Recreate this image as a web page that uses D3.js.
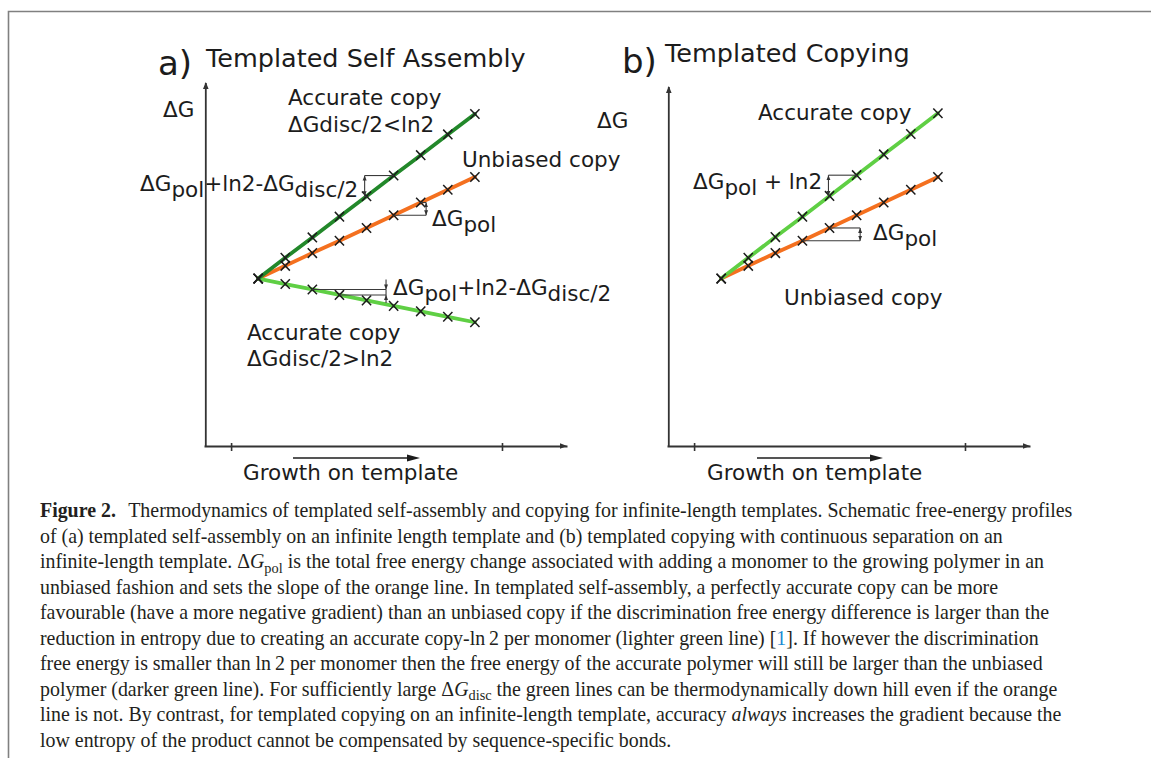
<!DOCTYPE html>
<html>
<head>
<meta charset="utf-8">
<script src="https://cdn.jsdelivr.net/npm/d3@7"></script>
<style>
  html, body { margin: 0; padding: 0; background: #fff; }
  svg { display: block; }
</style>
</head>
<body>
<svg id="fig" width="1151" height="758"></svg>
<script>
// Number of monomers added along the template
const steps = [0, 1, 2, 3, 4, 5, 6, 7, 8];
// Unlabelled ticks on the growth axis
const xTicks = [-1, 9];

// (a) Templated self assembly: free energy after each added monomer
const assemblyUnbiased       = [4.60, 4.95, 5.30, 5.64, 5.99, 6.34, 6.69, 7.04, 7.39];
const assemblyAccurateWeak   = [4.60, 5.17, 5.73, 6.30, 6.86, 7.43, 7.99, 8.56, 9.12];
const assemblyAccurateStrong = [4.60, 4.45, 4.30, 4.15, 4.00, 3.85, 3.70, 3.55, 3.40];

// (b) Templated copying
const copyingUnbiased = [4.60, 4.95, 5.30, 5.64, 5.99, 6.34, 6.69, 7.04, 7.39];
const copyingAccurate = [4.60, 5.17, 5.74, 6.30, 6.87, 7.44, 8.01, 8.57, 9.14];

const colors = { orange: "#f4701f", darkGreen: "#22882a", lightGreen: "#5fcf44" };
const ink = "#1c1c1c";
const diagramFont = "'DejaVu Sans', Verdana, sans-serif";

const svg = d3.select("#fig");

// Figure frame
svg.append("path")
  .attr("d", "M8.5,758 V11.5 H1151")
  .attr("fill", "none").attr("stroke", "#808080").attr("stroke-width", 1.6);

const defs = svg.append("defs");
defs.append("marker")
  .attr("id", "tip").attr("viewBox", "0 0 6 6").attr("refX", 6).attr("refY", 3)
  .attr("markerWidth", 5).attr("markerHeight", 5).attr("markerUnits", "userSpaceOnUse")
  .attr("orient", "auto-start-reverse")
  .append("path").attr("d", "M0,0.6 L6,3 L0,5.4 Z").attr("fill", "#333");

function addText(g, x, y, parts, size) {
  const t = g.append("text").attr("x", x).attr("y", y)
    .attr("font-family", diagramFont).attr("font-size", size).attr("fill", ink);
  let shifted = 0;
  parts.forEach(([s, sub]) => {
    const want = sub ? 6 : 0;
    t.append("tspan").attr("dy", want - shifted).text(s);
    shifted = want;
  });
  return t;
}

function drawPanel(p) {
  const g = svg.append("g");
  const x = d3.scaleLinear().domain([-2, 11.4]).range(p.xRange);
  const y = d3.scaleLinear().domain([0, 10]).range([446, 82]);

  // growth axis
  const xAxis = g.append("g").attr("transform", `translate(0,${y(0)})`)
    .call(d3.axisBottom(x).tickValues(xTicks).tickFormat("").tickSizeOuter(0));
  xAxis.select(".domain").attr("stroke", "#333").attr("stroke-width", 1.8);
  xAxis.selectAll(".tick line").attr("y1", -3).attr("y2", 5)
    .attr("stroke", "#333").attr("stroke-width", 1.6);
  const xEnd = p.xRange[1];
  g.append("path").attr("d", `M${xEnd},${y(0)} l-7,-2.8 v5.6 Z`).attr("fill", "#333");

  // free energy axis
  const yx = p.xRange[0] + 1.8;
  g.append("line").attr("x1", yx).attr("x2", yx).attr("y1", y(0)).attr("y2", p.yTop)
    .attr("stroke", "#333").attr("stroke-width", 1.8);
  g.append("path").attr("d", `M${yx},${p.yTop - 1} l-2.8,7 h5.6 Z`).attr("fill", "#333");

  // profiles
  const line = d3.line().x((d, i) => x(steps[i])).y(d => y(d));
  p.series.forEach(s => {
    g.append("path").datum(s.values).attr("d", line)
      .attr("fill", "none").attr("stroke", s.color).attr("stroke-width", 3.8)
      .attr("stroke-linecap", "round");
  });
  p.series.forEach(s => {
    g.append("g").selectAll("path").data(s.values).join("path")
      .attr("transform", (d, i) => `translate(${x(steps[i])},${y(d)})`)
      .attr("d", "M-4.6,-4.8 L4.6,4.8 M-4.6,4.8 L4.6,-4.8")
      .attr("stroke", ink).attr("stroke-width", 1.5).attr("fill", "none");
  });

  // per-monomer step annotations
  p.brackets.forEach(b => {
    const vals = p.series.find(s => s.key === b.series).values;
    const xa = x(b.at);
    const y1 = y(vals[b.from]), y2 = y(vals[b.to]);
    const bg = g.append("g").attr("stroke", "#3a3a3a").attr("stroke-width", 1.1).attr("fill", "none");
    bg.append("line").attr("x1", x(steps[b.from])).attr("x2", xa).attr("y1", y1).attr("y2", y1);
    bg.append("line").attr("x1", x(steps[b.to])).attr("x2", xa).attr("y1", y2).attr("y2", y2);
    const top = Math.min(y1, y2), bot = Math.max(y1, y2);
    if (b.inward) {
      bg.append("line").attr("x1", xa).attr("x2", xa).attr("y1", top - 10).attr("y2", top)
        .attr("marker-end", "url(#tip)");
      bg.append("line").attr("x1", xa).attr("x2", xa).attr("y1", bot + 8).attr("y2", bot)
        .attr("marker-end", "url(#tip)");
      bg.append("line").attr("x1", xa).attr("x2", xa).attr("y1", top).attr("y2", bot);
    } else {
      bg.append("line").attr("x1", xa).attr("x2", xa).attr("y1", top).attr("y2", bot)
        .attr("marker-start", "url(#tip)").attr("marker-end", "url(#tip)");
    }
  });

  // titles and labels
  g.append("text").attr("x", p.letter.x).attr("y", p.letter.y)
    .attr("font-family", diagramFont).attr("font-size", 34).attr("fill", ink).text(p.letter.t);
  g.append("text").attr("x", p.title.x).attr("y", p.title.y)
    .attr("font-family", diagramFont).attr("font-size", 25.5).attr("fill", ink).text(p.title.t);
  p.labels.forEach(l => addText(g, l.x, l.y, l.parts, 21.5));

  // growth direction
  const ga = p.growth;
  g.append("line").attr("x1", ga.x1).attr("x2", ga.x2 - 10).attr("y1", 458).attr("y2", 458)
    .attr("stroke", ink).attr("stroke-width", 1.5);
  g.append("path").attr("d", `M${ga.x2},458 l-13,-3.6 v7.2 Z`).attr("fill", ink);
  addText(g, ga.tx, 480, [["Growth on template"]], 21.5);
}

const stepLabel = [["ΔG"], ["pol", 1], ["+ln2-ΔG"], ["disc/2", 1]];

drawPanel({
  xRange: [204, 567], yTop: 83,
  series: [
    { key: "orange", color: colors.orange, values: assemblyUnbiased },
    { key: "strong", color: colors.lightGreen, values: assemblyAccurateStrong },
    { key: "weak", color: colors.darkGreen, values: assemblyAccurateWeak }
  ],
  brackets: [
    { series: "weak", from: 4, to: 5, at: 3.93 },
    { series: "orange", from: 5, to: 6, at: 6.2 },
    { series: "strong", from: 2, to: 3, at: 4.72, inward: true }
  ],
  letter: { x: 158, y: 75, t: "a)" },
  title: { x: 206, y: 66.5, t: "Templated Self Assembly" },
  labels: [
    { x: 163, y: 117, parts: [["ΔG"]] },
    { x: 288, y: 105, parts: [["Accurate copy"]] },
    { x: 288, y: 132, parts: [["ΔGdisc/2<ln2"]] },
    { x: 462, y: 167, parts: [["Unbiased copy"]] },
    { x: 140, y: 191, parts: stepLabel },
    { x: 432, y: 226, parts: [["ΔG"], ["pol", 1]] },
    { x: 393, y: 295, parts: stepLabel },
    { x: 247, y: 340, parts: [["Accurate copy"]] },
    { x: 247, y: 366, parts: [["ΔGdisc/2>ln2"]] }
  ],
  growth: { x1: 293, x2: 420, tx: 243 }
});

drawPanel({
  xRange: [667, 1030], yTop: 87,
  series: [
    { key: "orange", color: colors.orange, values: copyingUnbiased },
    { key: "accurate", color: colors.lightGreen, values: copyingAccurate }
  ],
  brackets: [
    { series: "accurate", from: 4, to: 5, at: 3.96 },
    { series: "orange", from: 3, to: 4, at: 5.13 }
  ],
  letter: { x: 622, y: 73, t: "b)" },
  title: { x: 665, y: 61.5, t: "Templated Copying" },
  labels: [
    { x: 597, y: 128, parts: [["ΔG"]] },
    { x: 758, y: 120, parts: [["Accurate copy"]] },
    { x: 693, y: 189, parts: [["ΔG"], ["pol", 1], [" + ln2"]] },
    { x: 873, y: 240, parts: [["ΔG"], ["pol", 1]] },
    { x: 784, y: 305, parts: [["Unbiased copy"]] }
  ],
  growth: { x1: 757, x2: 883, tx: 707 }
});

// Caption
const captionLines = [
  [{ t: "Figure 2.", b: 1 }, { t: "Thermodynamics of templated self-assembly and copying for infinite-length templates. Schematic free-energy profiles", dx: 0.62 }],
  [{ t: "of (a) templated self-assembly on an infinite length template and (b) templated copying with continuous separation on an" }],
  [{ t: "infinite-length template. Δ" }, { t: "G", i: 1 }, { t: "pol", sub: 1 }, { t: " is the total free energy change associated with adding a monomer to the growing polymer in an" }],
  [{ t: "unbiased fashion and sets the slope of the orange line. In templated self-assembly, a perfectly accurate copy can be more" }],
  [{ t: "favourable (have a more negative gradient) than an unbiased copy if the discrimination free energy difference is larger than the" }],
  [{ t: "reduction in entropy due to creating an accurate copy-ln\u20092 per monomer (lighter green line) [" }, { t: "1", blue: 1 }, { t: "]. If however the discrimination" }],
  [{ t: "free energy is smaller than ln\u20092 per monomer then the free energy of the accurate polymer will still be larger than the unbiased" }],
  [{ t: "polymer (darker green line). For sufficiently large Δ" }, { t: "G", i: 1 }, { t: "disc", sub: 1 }, { t: " the green lines can be thermodynamically down hill even if the orange" }],
  [{ t: "line is not. By contrast, for templated copying on an infinite-length template, accuracy " }, { t: "always", i: 1 }, { t: " increases the gradient because the" }],
  [{ t: "low entropy of the product cannot be compensated by sequence-specific bonds." }]
];

const cap = svg.append("g").attr("font-family", "'Liberation Serif', 'Times New Roman', serif").attr("fill", "#231f20");

function captionLine(sel, segs, fs) {
  let shift = 0;
  segs.forEach(s => {
    const sp = sel.append("tspan").text(s.t);
    const want = s.sub ? fs * 0.25 : 0;
    if (want - shift !== 0) sp.attr("dy", want - shift);
    shift = want;
    if (s.sub) sp.attr("font-size", fs * 0.72);
    if (s.b) sp.attr("font-weight", "bold");
    if (s.i) sp.attr("font-style", "italic");
    if (s.blue) sp.attr("fill", "#1b8ad3");
    if (s.dx) sp.attr("dx", s.dx * fs);
  });
}

// size the caption so the first line spans the text column
const probe = cap.append("text").attr("font-size", 20).attr("x", 0).attr("y", -50);
captionLine(probe, captionLines[0], 20);
const fs = 20 * 1021 / probe.node().getComputedTextLength();
probe.remove();

captionLines.forEach((segs, k) => {
  const t = cap.append("text").attr("x", 40).attr("y", 517 + k * 25.5).attr("font-size", fs);
  captionLine(t, segs, fs);
});
</script>
</body>
</html>
